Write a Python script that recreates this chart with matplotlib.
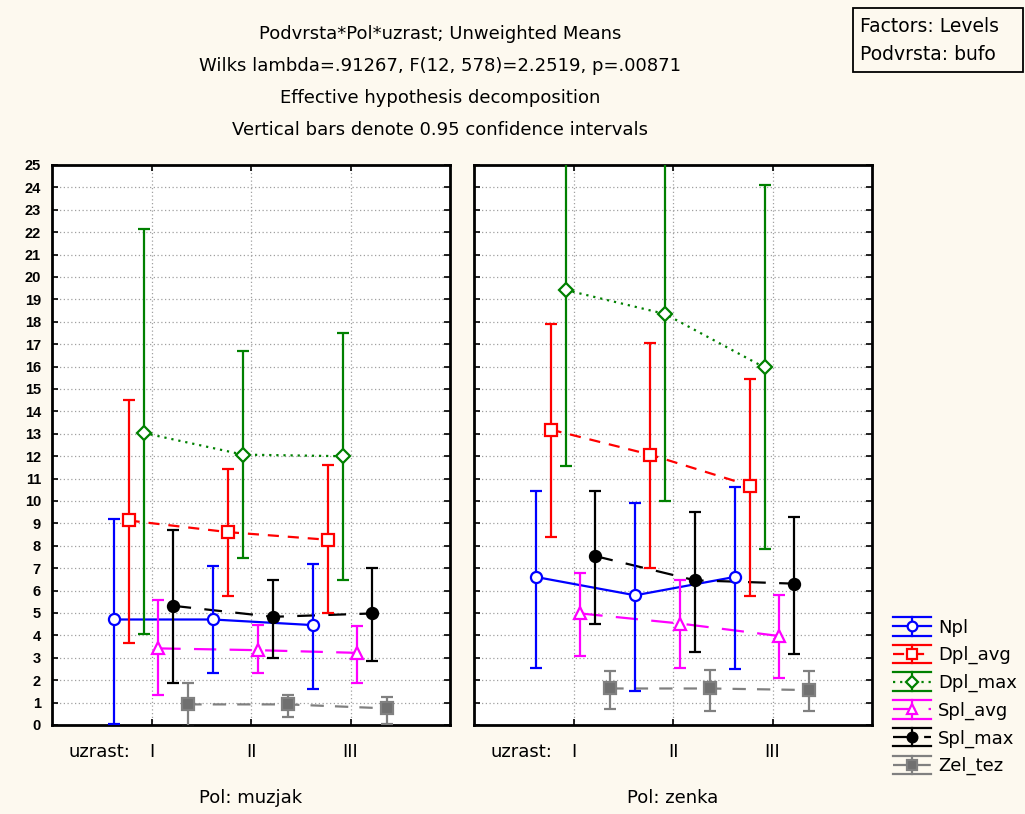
import numpy as np
import matplotlib
matplotlib.use("Agg")
import matplotlib.pyplot as plt
from matplotlib.lines import Line2D
from matplotlib.patches import Rectangle
from matplotlib.legend_handler import HandlerBase

plt.rcParams['font.family'] = ['DejaVu Sans']

# kategorije
uzrast = ["I", "II", "III"]
pol = ["Pol: muzjak", "Pol: zenka"]
series = ["Npl", "Dpl_avg", "Dpl_max", "Spl_avg", "Spl_max", "Zel_tez"]

# srednje vrijednosti i granice 95% CI: [muzjak, zenka]
npl_mean = [[4.71, 4.71, 4.46], [6.61, 5.79, 6.61]]
npl_lo = [[0.04, 2.30, 1.59], [2.55, 1.51, 2.48]]
npl_hi = [[9.19, 7.08, 7.17], [10.44, 9.92, 10.62]]

dplavg_mean = [[9.13, 8.61, 8.27], [13.19, 12.07, 10.69]]
dplavg_lo = [[3.64, 5.75, 4.98], [8.39, 7.01, 5.76]]
dplavg_hi = [[14.49, 11.41, 11.60], [17.90, 17.06, 15.46]]

dplmax_mean = [[13.04, 12.07, 12.00], [19.42, 18.35, 15.96]]
dplmax_lo = [[4.08, 7.46, 6.46], [11.58, 10.00, 7.87]]
dplmax_hi = [[22.13, 16.70, 17.51], [27.26, 26.70, 24.10]]

splavg_mean = [[3.42, 3.34, 3.22], [4.98, 4.53, 3.97]]
splavg_lo = [[1.32, 2.30, 1.86], [3.09, 2.55, 2.11]]
splavg_hi = [[5.57, 4.46, 4.44], [6.80, 6.46, 5.82]]

splmax_mean = [[5.32, 4.83, 4.98], [7.54, 6.46, 6.31]]
splmax_lo = [[1.86, 3.01, 2.84], [4.53, 3.27, 3.19]]
splmax_hi = [[8.69, 6.46, 7.00], [10.44, 9.53, 9.28]]

zel_mean = [[0.92, 0.92, 0.74], [1.63, 1.63, 1.56]]
zel_lo = [[-0.1, 0.37, 0.04], [0.73, 0.62, 0.62]]
zel_hi = [[1.86, 1.34, 1.23], [2.41, 2.45, 2.41]]

means = [npl_mean, dplavg_mean, dplmax_mean, splavg_mean, splmax_mean, zel_mean]
lows = [npl_lo, dplavg_lo, dplmax_lo, splavg_lo, splmax_lo, zel_lo]
highs = [npl_hi, dplavg_hi, dplmax_hi, splavg_hi, splmax_hi, zel_hi]

# stilovi
colors = ["#0000ff", "#ff0000", "#008000", "#ff00ff", "#000000", "#808080"]
markers = ["o", "s", "D", "^", "o", "s"]
mfaces = ["white", "white", "white", "white", "#000000", "#707070"]
dashes = [None, (5, 4), (1, 2.2), (10, 6), (8, 6), (6, 5)]
offsets = [-0.38, -0.23, -0.08, 0.07, 0.22, 0.37]


class Proxy(Line2D):
    pass


class ErrHandler(HandlerBase):
    # simbol kao u Statistici: gornja i donja crta, okomita crta, linija sa markerom
    def create_artists(self, legend, orig, xd, yd, width, height, fontsize, trans):
        c = orig.get_color()
        x0, x1 = -xd, -xd + width
        xm = (x0 + x1) / 2
        y0, y1 = -yd, -yd + height
        ym = (y0 + y1) / 2
        arts = []
        for yy in (y0, y1):
            arts.append(Line2D([x0, x1], [yy, yy], color=c, lw=1.6))
        arts.append(Line2D([xm, xm], [y0, y1], color=c, lw=1.6))
        mid = Line2D([x0, x1], [ym, ym], color=c, lw=1.6)
        if orig.my_dashes is not None:
            mid.set_dashes(orig.my_dashes)
        arts.append(mid)
        arts.append(Line2D([xm], [ym], marker=orig.get_marker(), ms=orig.get_markersize(),
                           mfc=orig.get_markerfacecolor(), mec=c, mew=1.6, ls="none"))
        for a in arts:
            a.set_transform(trans)
        return arts


bg = "#fdf9ef"
fig = plt.figure(figsize=(10.25, 8.14), dpi=100, facecolor=bg)

W, H = 1025.0, 814.0
ax_left = [52, 474]
ax_w = 398
ax_top, ax_bot = 165, 725
fs = 13

x = np.arange(1, 4)
for p in range(2):
    ax = fig.add_axes([ax_left[p] / W, 1 - ax_bot / H, ax_w / W, (ax_bot - ax_top) / H])
    ax.set_facecolor("white")
    for s in range(6):
        m = np.array(means[s][p])
        lo = np.array(lows[s][p])
        hi = np.array(highs[s][p])
        xs = x + offsets[s]
        ln, = ax.plot(xs, m, color=colors[s], lw=1.6, zorder=3)
        if dashes[s] is not None:
            ln.set_dashes(dashes[s])
        ax.errorbar(xs, m, yerr=[m - lo, hi - m], fmt=markers[s], color=colors[s],
                    mfc=mfaces[s], mec=colors[s], ms=8 if markers[s] != "D" else 7,
                    mew=1.6, elinewidth=1.6, capsize=4, capthick=1.6, zorder=4)
    ax.set_xlim(0, 4)
    ax.set_ylim(0, 25)
    ax.set_yticks(range(0, 26))
    ax.set_xticks(x)
    ax.set_xticklabels([])
    ax.grid(True, color="#a0a0a0", linestyle=(0, (1, 2)), lw=0.9)
    ax.tick_params(direction="in", length=4, width=1.2, top=True, right=True, pad=8)
    if p == 0:
        ax.set_yticklabels([str(v) for v in range(0, 26)], fontsize=10.5,
                           fontweight="bold", family="Liberation Sans")
    else:
        ax.set_yticklabels([])
    for sp in ax.spines.values():
        sp.set_linewidth(2)
    # kategorijske oznake ispod osi
    for i, lab in enumerate(uzrast):
        fig.text((ax_left[p] + ax_w * (i + 1) / 4) / W, 1 - 752 / H, lab,
                 ha="center", va="center", fontsize=fs)
    fig.text((ax_left[p] + 47) / W, 1 - 752 / H, "uzrast:", ha="center",
             va="center", fontsize=fs)
    fig.text((ax_left[p] + ax_w / 2) / W, 1 - 798 / H, pol[p], ha="center",
             va="center", fontsize=fs)

# naslovi
titles = ["Podvrsta*Pol*uzrast; Unweighted Means",
          "Wilks lambda=.91267, F(12, 578)=2.2519, p=.00871",
          "Effective hypothesis decomposition",
          "Vertical bars denote 0.95 confidence intervals"]
for i, t in enumerate(titles):
    fig.text(440 / W, 1 - (34 + 32 * i) / H, t, ha="center", va="center", fontsize=fs)

# okvir s faktorima
fig.patches.append(Rectangle((853 / W, 1 - 72 / H), 170 / W, 64 / H, transform=fig.transFigure,
                             facecolor=bg, edgecolor="black", lw=1.3))
fig.text(860 / W, 1 - 26 / H, "Factors: Levels", ha="left", va="center", fontsize=13.5)
fig.text(860 / W, 1 - 54 / H, "Podvrsta: bufo", ha="left", va="center", fontsize=13.5)

# legenda
proxies = []
for s in range(6):
    pr = Proxy([0], [0], color=colors[s], marker=markers[s], mfc=mfaces[s],
               ms=7 if markers[s] != "D" else 6.5)
    pr.my_dashes = dashes[s]
    proxies.append(pr)

fig.legend(handles=proxies, labels=series, loc="upper left",
           bbox_to_anchor=(886 / W, 1 - 610 / H), frameon=False, fontsize=fs,
           handlelength=2.1, handleheight=1.2, labelspacing=0.45, handletextpad=0.4,
           borderaxespad=0, handler_map={Proxy: ErrHandler()})

fig.savefig("out.png", dpi=100, facecolor=bg)
